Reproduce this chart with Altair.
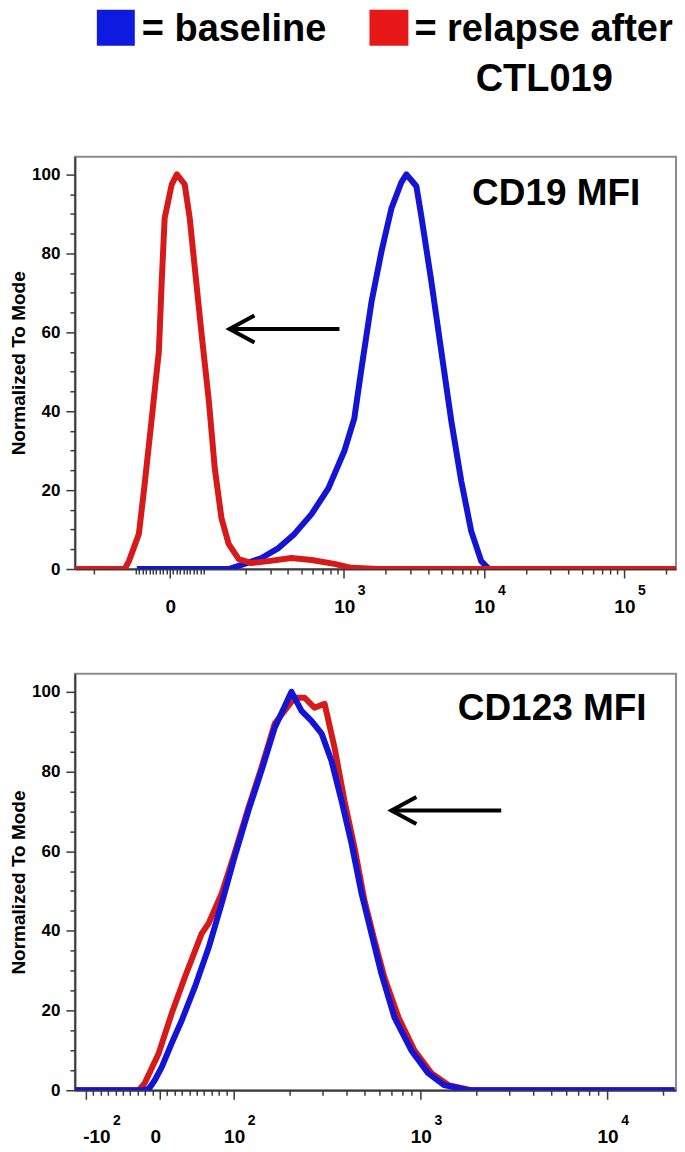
import math
import altair as alt
import pandas as pd

# ---------------- text ----------------
LEGEND_TEXT = ["= baseline", "= relapse after", "CTL019"]
PANEL_TITLES = ["CD19 MFI", "CD123 MFI"]
Y_TITLE = "Normalized To Mode"
BLUE = "#1414d4"
RED = "#d61a1a"
LEG_BLUE = "#0f1ae0"
LEG_RED = "#e81818"

# ---------------- CD19 panel (MFI, % of mode) ----------------
cd19_relapse_mfi = [-272, -120, -112, -91, -74, -53, -32, -24, -15, 6, 21, 44, 59, 74, 94,
                    109, 120, 134, 151, 178, 220, 290, 424, 589, 858, 1135, 1770, 235000]
cd19_relapse_pct = [0, 0, 2.0, 8.9, 21.5, 38.2, 55.2, 72.2, 88.9, 97.5, 100, 97.5, 88.9, 76.2, 59.5,
                    42.5, 25.6, 12.9, 6.3, 2.5, 1.5, 2.0, 2.8, 2.3, 1.3, 0.3, 0, 0]
cd19_base_mfi = [-97, 151, 196, 259, 342, 445, 589, 778, 1010, 1190, 1340, 1580, 1860, 2190,
                 2580, 2800, 3040, 3300, 3580, 4220, 4970, 5860, 6900, 8130, 9580, 10900]
cd19_base_pct = [0, 0, 1.3, 2.8, 5.3, 8.9, 13.9, 20.5, 29.9, 38.2, 50.9, 67.8, 80.5, 91.4,
                 98.0, 100, 98.5, 97.0, 89.4, 72.9, 55.2, 37.5, 22.3, 9.6, 2.0, 0]
cd19_major = [0, 1000, 10000, 100000]
cd19_major_base = ["0", "10", "10", "10"]
cd19_major_exp = ["", "3", "4", "5"]
cd19_minor = ([-200] + [v for v in range(-100, 101, 10) if v != 0]
              + list(range(200, 1000, 100)) + list(range(2000, 10000, 1000))
              + list(range(20000, 100000, 10000)) + [200000])
cd19_arrow = {"tail": 932, "tip": 153, "pct": 60.8}

# ---------------- CD123 panel ----------------
cd123_base_mfi = [-114, -24.3, -14.9, -6.8, 2.7, 16.2, 29.7, 47.3, 66.2, 83.8, 101, 120, 141, 166,
                  197, 204, 231, 261, 296, 334, 378, 428, 484, 547, 618, 726, 895, 1100, 1340,
                  1810, 23000]
cd123_base_pct = [0, 0, 0.3, 2.5, 5.8, 11.8, 17.5, 25.8, 35.8, 46.9, 58.4, 70.2, 80.2, 91.0,
                  98.5, 100, 95.2, 92.7, 89.5, 82.7, 72.7, 61.9, 49.4, 39.3, 29.3, 18.3, 10.0, 4.3,
                  1.3, 0, 0]
cd123_relapse_mfi = [-114, -28.4, -20.3, -1.4, 16.2, 33.8, 56.7, 66.2, 83.8, 101, 120, 141, 166,
                     212, 240, 271, 307, 347, 392, 444, 502, 568, 642, 763, 929, 1145, 1410, 1870,
                     23000]
cd123_relapse_pct = [0, 0, 1.8, 9.3, 19.3, 28.3, 39.3, 41.9, 49.4, 59.4, 70.9, 81.0, 92.0,
                     98.5, 98.5, 96.0, 97.0, 86.0, 72.7, 60.9, 47.6, 37.6, 28.3, 18.3, 10.0, 4.3,
                     1.3, 0, 0]
cd123_major = [-100, 0, 100, 1000, 10000]
cd123_major_base = ["-10", "0", "10", "10", "10"]
cd123_major_exp = ["2", "", "2", "3", "4"]
cd123_minor = ([v for v in range(-90, 100, 10) if v != 0]
               + list(range(200, 1000, 100)) + list(range(2000, 10000, 1000)) + [20000])
cd123_arrow = {"tail": 2710, "tip": 700, "pct": 70.2}

Y_TICKS = list(range(0, 101, 5))
FONT = "Liberation Sans"


def u_of(v, a):
    """Bi-exponential-like display transform (linear within +-100, log outside)."""
    if abs(v) <= 100:
        return v * a / 100.0
    return (1 if v > 0 else -1) * (a + math.log10(abs(v) / 100.0))


def u_expr(field, a):
    f = "datum." + field
    return (f"abs({f}) <= 100 ? {f} * {a} / 100 : "
            f"({f} > 0 ? 1 : -1) * ({a} + log(abs({f}) / 100) / LN10)")


def panel(cfg):
    a, dom, H, W = cfg["A"], cfg["dom"], cfg["H"], cfg["W"]
    major_u = [u_of(v, a) for v in cfg["major"]]
    minor_u = [u_of(v, a) for v in cfg["minor"]]
    all_u = sorted(major_u + minor_u)
    minor_test = " && ".join("abs(datum.value - (%r)) > 1e-6" % m for m in major_u)

    xscale = alt.Scale(domain=dom, nice=False, zero=False)
    yscale = alt.Scale(domain=[0, 104.5], nice=False, zero=True)
    xaxis = alt.Axis(values=all_u, labels=False, title=None, grid=False,
                     tickSize={"condition": {"test": minor_test, "value": 5}, "value": 9})
    yaxis = alt.Axis(values=Y_TICKS, title=Y_TITLE, grid=False,
                     labelExpr="datum.value % 20 === 0 ? datum.label : ''",
                     tickSize={"condition": {"test": "datum.value % 20 !== 0", "value": 5}, "value": 9},
                     labelFontSize=17, labelFontWeight="bold", labelPadding=6, labelOverlap=False,
                     titleFontSize=19, titleFontWeight="bold", titlePadding=3)

    def X(f):
        return alt.X(f, scale=xscale, axis=xaxis)

    def Y(f):
        return alt.Y(f, scale=yscale, axis=yaxis)

    def line(mfi, pct, color):
        df = pd.DataFrame({"mfi": mfi, "pct": pct})
        return (alt.Chart(df).transform_calculate(u=u_expr("mfi", a))
                .mark_line(color=color, strokeWidth=6, clip=True, strokeJoin="round")
                .encode(x=X("u:Q"), y=Y("pct:Q")))

    layers = [line(mfi, pct, color) for (mfi, pct, color) in cfg["lines"]]

    # panel title
    layers.append(alt.Chart(pd.DataFrame({"t": [cfg["title"]]}))
                  .mark_text(font=FONT, fontSize=37, fontWeight="bold", color="black",
                             align="center", baseline="middle")
                  .encode(text="t:N", x=alt.value(cfg["title_x"]), y=alt.value(cfg["title_y"])))

    # arrow
    ar = cfg["arrow"]
    adf = pd.DataFrame({"tail": [ar["tail"]], "tip": [ar["tip"]], "pct": [ar["pct"]]})
    abase = alt.Chart(adf).transform_calculate(u=u_expr("tail", a), u1=u_expr("tip", a))
    layers.append(abase.mark_rule(color="black", strokeWidth=4)
                  .encode(x=X("u:Q"), x2="u1:Q", y=Y("pct:Q")))
    layers.append(abase.transform_calculate(u="datum.u1")
                  .mark_point(shape="M 1.85 -1 L 0 0 L 1.85 1", size=729, filled=False,
                              color="black", strokeWidth=4, opacity=1)
                  .encode(x=X("u:Q"), y=Y("pct:Q")))

    # x tick labels (base and superscript exponent)
    ldf = pd.DataFrame({"mfi": cfg["major"], "base": cfg["base"], "exp": cfg["exp"]})
    lbase = alt.Chart(ldf).transform_calculate(u=u_expr("mfi", a))
    for flt, dxb, dxe in cfg["label_dx"]:
        src = lbase.transform_filter(flt)
        layers.append(src.mark_text(font=FONT, fontSize=19, fontWeight="bold", color="black",
                                    baseline="middle", align="center", dx=dxb)
                      .encode(x=X("u:Q"), y=alt.value(H + cfg["base_dy"]), text="base:N"))
        layers.append(src.mark_text(font=FONT, fontSize=14, fontWeight="bold", color="black",
                                    baseline="middle", align="center", dx=dxe)
                      .encode(x=X("u:Q"), y=alt.value(H + cfg["exp_dy"]), text="exp:N"))

    return alt.layer(*layers).properties(width=W, height=H)


W = 602
top_cfg = {
    "A": 0.242, "dom": [-0.677, -0.677 + W / 140.3], "H": 413, "W": W,
    "major": cd19_major, "minor": cd19_minor, "base": cd19_major_base, "exp": cd19_major_exp,
    "lines": [(cd19_base_mfi, cd19_base_pct, BLUE), (cd19_relapse_mfi, cd19_relapse_pct, RED)],
    "title": PANEL_TITLES[0], "title_x": 482, "title_y": 37,
    "arrow": cd19_arrow,
    "label_dx": [("datum.mfi >= 0", 1, 18)],
    "base_dy": 38, "exp_dy": 22,
}
bot_cfg = {
    "A": 0.3957, "dom": [-0.4545, -0.4545 + W / 187.0], "H": 417, "W": W,
    "major": cd123_major, "minor": cd123_minor, "base": cd123_major_base, "exp": cd123_major_exp,
    "lines": [(cd123_relapse_mfi, cd123_relapse_pct, RED), (cd123_base_mfi, cd123_base_pct, BLUE)],
    "title": PANEL_TITLES[1], "title_x": 478, "title_y": 35,
    "arrow": cd123_arrow,
    "label_dx": [("datum.mfi > 0", 1, 18), ("datum.mfi == 0", -4, 0), ("datum.mfi < 0", 11, 31)],
    "base_dy": 47, "exp_dy": 31,
}

one = pd.DataFrame({"k": [0]})
legend = alt.layer(
    alt.Chart(one).mark_rect(color=LEG_BLUE).encode(
        x=alt.value(22), x2=alt.value(60), y=alt.value(0), y2=alt.value(36)),
    alt.Chart(one).mark_text(text=LEGEND_TEXT[0], font=FONT, fontSize=38, fontWeight="bold",
                             align="left", baseline="alphabetic", color="black").encode(
        x=alt.value(67), y=alt.value(31)),
    alt.Chart(one).mark_rect(color=LEG_RED).encode(
        x=alt.value(295), x2=alt.value(334), y=alt.value(0), y2=alt.value(36)),
    alt.Chart(one).mark_text(text=LEGEND_TEXT[1], font=FONT, fontSize=38, fontWeight="bold",
                             align="left", baseline="alphabetic", color="black").encode(
        x=alt.value(340), y=alt.value(31)),
    alt.Chart(one).mark_text(text=LEGEND_TEXT[2], font=FONT, fontSize=38, fontWeight="bold",
                             align="center", baseline="alphabetic", color="black").encode(
        x=alt.value(470), y=alt.value(81)),
).properties(width=W, height=42, view=alt.ViewBackground(stroke="transparent"))

chart = (alt.vconcat(legend, panel(top_cfg), panel(bot_cfg), spacing=105, bounds="flush")
         .properties(padding=0)
         .configure_view(stroke="#8c8c8c", strokeWidth=2)
         .configure_axis(domainColor="#3a3a3a", domainWidth=2, tickColor="#3a3a3a", tickWidth=1.5,
                         labelColor="black", titleColor="black", labelFont=FONT, titleFont=FONT))

chart.save("out.html", embed_options={"renderer": "svg", "actions": False})
